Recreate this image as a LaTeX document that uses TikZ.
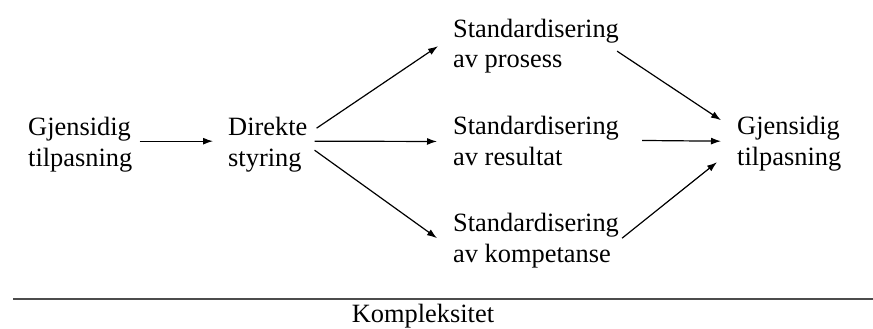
\documentclass[tikz,border=0pt]{standalone}
\usepackage{fontspec}
\setmainfont{Liberation Serif}
\usetikzlibrary{calc, positioning, arrows.meta}

\begin{document}
\begin{tikzpicture}[
        x=1pt, y=-1pt,
        every node/.style={inner sep=0pt, align=left, anchor=base west,
            font=\fontsize{26.4}{31}\selectfont},
        link/.style={-{Latex[length=10pt,width=7pt]}, line width=1.2pt},
        axis/.style={line width=1.8pt, black!70}
    ]
    \useasboundingbox (0,0) rectangle (873,329);

    % Koordinasjonsformer (base = siste linje)
    \node (gl) at (28,166) {Gjensidig\\tilpasning};
    \node (dir) at (228,166) {Direkte\\styring};
    \node (sp) at (453,68) {Standardisering\\av prosess};
    \node (sr) at (453,165) {Standardisering\\av resultat};
    \node (sk) at (453,262) {Standardisering\\av kompetanse};
    \node (gr) at (737,165) {Gjensidig\\tilpasning};

    % Piler
    \draw[link] ($(gl.east)+(7,-3)$) -- ($(dir.west)+(-15,-3)$);
    \draw[link] ($(dir.east)+(9,-16)$) -- ($(sp.west)+(-15,0)$);
    \draw[link] ($(dir.east)+(7,-3)$) -- ($(sr.west)+(-16,1)$);
    \draw[link] ($(dir.east)+(7,6)$) -- ($(sk.west)+(-16,-2)$);
    \draw[link] ($(sp.east)+(-2,5)$) -- ($(gr.west)+(-16,-23)$);
    \draw[link] ($(sr.east)+(23,0)$) -- ($(gr.west)+(-16,-2)$);
    \draw[link] ($(sk.east)+(3,-2)$) -- ($(gr.west)+(-20,19)$);

    % Kompleksitetsakse
    \coordinate (a0) at (13,299);
    \coordinate (a1) at (873,299);
    \draw[axis] (a0) -- (a1);
    \node[anchor=base] (kompl) at (423,322) {Kompleksitet};
\end{tikzpicture}
\end{document}
